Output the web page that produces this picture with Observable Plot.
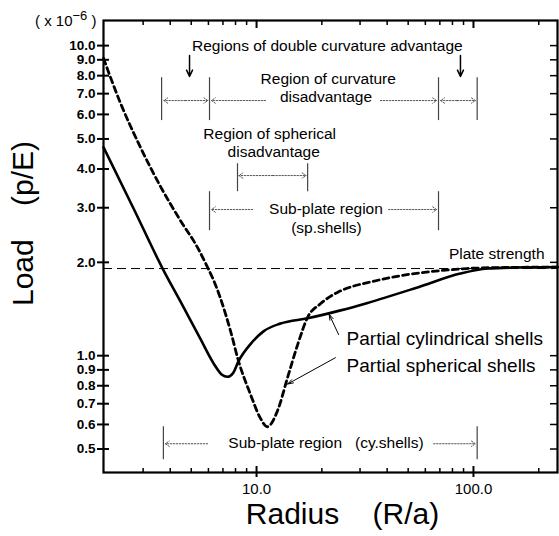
<!DOCTYPE html>
<html><head><meta charset="utf-8">
<script src="https://cdn.jsdelivr.net/npm/d3@7"></script>
<script src="https://cdn.jsdelivr.net/npm/@observablehq/plot@0.6"></script>
<style>
body{margin:0;background:#fff;}
#chart svg{display:block;}
</style></head><body><div id="chart"></div>
<script>
// Partial cylindrical shells (solid)
const cylRadius = [1.97, 2.7, 3.69, 4.47, 5.52, 6.34, 6.9, 7.35, 7.8, 8.26, 9.38, 10.8, 12.9, 17.2, 24.4, 32.5, 55.2, 87, 116, 160, 244];
const cylLoad   = [4.7, 3.0, 1.91, 1.49, 1.13, 0.944, 0.87, 0.855, 0.88, 0.96, 1.09, 1.20, 1.27, 1.32, 1.40, 1.48, 1.66, 1.84, 1.91, 1.925, 1.93];
// Partial spherical shells (dashed)
const sphRadius = [1.97, 2.36, 2.92, 3.61, 4.47, 5.35, 5.94, 6.34, 6.82, 7.59, 8.26, 9.38, 10.4, 11.2, 12.5, 13.9, 15.5, 17.2, 19.7, 23.6, 27.5, 32.5, 46, 65, 93, 140, 244];
const sphLoad   = [9.1, 6.52, 4.69, 3.51, 2.72, 2.23, 1.93, 1.75, 1.53, 1.20, 0.96, 0.75, 0.63, 0.59, 0.665, 0.85, 1.09, 1.33, 1.47, 1.60, 1.67, 1.72, 1.81, 1.87, 1.91, 1.925, 1.93];
const plateStrength = 1.91;

// axis ticks
const yTicks = [0.5, 0.6, 0.7, 0.8, 0.9, 1, 2, 3, 4, 5, 6, 7, 8, 9, 10];
const xMajorTicks = [10, 100];
const xMinorTicks = [3, 4, 5, 6, 7, 8, 9, 20, 30, 40, 50, 60, 70, 80, 90, 200];

// region boundary lines
const boundX  = [3.65, 6.07, 69, 104, 8.17, 17.2, 6.07, 69, 3.72, 104];
const boundY1 = [5.73, 5.73, 5.73, 5.73, 3.38, 3.38, 2.53, 2.53, 0.462, 0.462];
const boundY2 = [7.88, 7.88, 7.88, 7.88, 4.16, 4.16, 3.38, 3.38, 0.59, 0.59];

// dotted region arrows
const spanX1 = [4.7, 4.7, 11.0, 37.2, 84, 84, 11.9, 11.9, 9.6, 40.6, 5.95, 65.5];
const spanX2 = [3.74, 5.96, 6.2, 67.6, 70.6, 102, 8.3, 16.9, 6.2, 67.6, 3.8, 102];
const spanY  = [6.65, 6.65, 6.65, 6.65, 6.65, 6.65, 3.81, 3.81, 2.96, 2.96, 0.52, 0.52];

// annotation texts
const noteText = ["Regions of double curvature advantage", "Region of curvature", "disadvantage",
  "Region of spherical", "disadvantage", "Sub-plate region", "(sp.shells)",
  "Sub-plate region\u00a0\u00a0\u00a0(cy.shells)", "Plate strength"];
const noteX = [21.2, 21.4, 20.9, 11.5, 12.0, 20.9, 21.0, 20.9, 128];
const noteY = [9.96, 7.79, 6.82, 5.18, 4.55, 2.97, 2.58, 0.522, 2.13];

const seriesText = ["Partial cylindrical shells", "Partial spherical shells"];
const seriesX = [26.0, 26.0];
const seriesY = [1.13, 0.929];

// pointer arrows (series labels) and down arrows
const pointX1 = [23.9, 23.1], pointY1 = [1.17, 0.985], pointX2 = [21.6, 13.9], pointY2 = [1.36, 0.81];
const downX = [4.91, 87.1], downY1 = [9.3, 9.3], downY2 = [7.95, 7.95];

const cyl = cylRadius.map((r, i) => ({r, p: cylLoad[i]}));
const sph = sphRadius.map((r, i) => ({r, p: sphLoad[i]}));
const bounds = boundX.map((x, i) => ({x, y1: boundY1[i], y2: boundY2[i]}));
const spans = spanX1.map((x1, i) => ({x1, x2: spanX2[i], y: spanY[i]}));
const notes = noteText.map((t, i) => ({t, x: noteX[i], y: noteY[i]}));
const series = seriesText.map((t, i) => ({t, x: seriesX[i], y: seriesY[i]}));
const pointers = pointX1.map((x1, i) => ({x1, y1: pointY1[i], x2: pointX2[i], y2: pointY2[i]}));
const downs = downX.map((x, i) => ({x, y1: downY1[i], y2: downY2[i]}));

const width = 559, height = 536;
const mL = 103, mR = 2, mT = 20, mB = 64;
const pw = width - mL - mR, ph = height - mT - mB;
const font = "'Liberation Sans', Arial, Helvetica, sans-serif";

const chart = Plot.plot({
  width, height,
  marginLeft: mL, marginRight: mR, marginTop: mT, marginBottom: mB,
  style: {fontFamily: font, background: "#fff", color: "#000", overflow: "visible"},
  x: {type: "log", domain: [1.97, 244], axis: null},
  y: {type: "log", domain: [0.42, 12.05], axis: null},
  marks: [
    Plot.ruleY([plateStrength], {stroke: "#000", strokeWidth: 1, strokeDasharray: "9,5"}),
    Plot.line(cyl, {x: "r", y: "p", stroke: "#000", strokeWidth: 2.6, curve: "monotone-x"}),
    Plot.line(sph, {x: "r", y: "p", stroke: "#000", strokeWidth: 2.8, strokeDasharray: "6,4", curve: "monotone-x"}),
    // region boundaries
    Plot.ruleX(bounds, {x: "x", y1: "y1", y2: "y2", stroke: "#444", strokeWidth: 1.2}),
    // dotted region arrows
    Plot.arrow(spans, {x1: "x1", x2: "x2", y1: "y", y2: "y", stroke: "#555", strokeWidth: 1, strokeDasharray: "1.5,1.5", headLength: 7, headAngle: 70}),
    // down arrows
    Plot.arrow(downs, {x1: "x", x2: "x", y1: "y1", y2: "y2", stroke: "#000", strokeWidth: 1.5, headLength: 8, headAngle: 50}),
    // pointer arrows
    Plot.arrow(pointers, {x1: "x1", y1: "y1", x2: "x2", y2: "y2", stroke: "#000", strokeWidth: 1, headLength: 9, headAngle: 35}),
    // annotation text
    Plot.text(notes, {x: "x", y: "y", text: "t", fontSize: 15.5, fill: "#000", textAnchor: "middle", lineAnchor: "middle"}),
    Plot.text(series, {x: "x", y: "y", text: "t", fontSize: 19, fill: "#000", textAnchor: "start", lineAnchor: "middle"}),
    // frame
    Plot.frame({stroke: "#000", strokeWidth: 2.2}),
    // y ticks left (crossing), right (inward)
    Plot.tickY(yTicks, {y: d => d, insetLeft: -6, insetRight: pw - 6, stroke: "#000", strokeWidth: 2}),
    Plot.tickY(yTicks, {y: d => d, insetLeft: pw - 7, stroke: "#000", strokeWidth: 1.5}),
    // x ticks bottom and top
    Plot.tickX(xMinorTicks, {x: d => d, insetTop: ph - 4, stroke: "#000", strokeWidth: 1.5}),
    Plot.tickX(xMajorTicks, {x: d => d, insetTop: ph - 6, insetBottom: -5, stroke: "#000", strokeWidth: 2}),
    Plot.tickX(xMinorTicks, {x: d => d, insetBottom: ph - 5, stroke: "#000", strokeWidth: 1.5}),
    Plot.tickX(xMajorTicks, {x: d => d, insetBottom: ph - 8, stroke: "#000", strokeWidth: 2}),
    // tick labels
    Plot.text(yTicks, {y: d => d, text: d => d.toFixed(1), frameAnchor: "left", textAnchor: "end", lineAnchor: "middle", dx: -8, fontSize: 13.5, fontWeight: "bold", fill: "#000"}),
    Plot.text(xMajorTicks, {x: d => d, text: d => d.toFixed(1), frameAnchor: "bottom", textAnchor: "middle", lineAnchor: "top", dy: 11, fontSize: 15, fill: "#000"}),
    // axis titles and unit
    Plot.text(["Radius\u00a0\u00a0\u00a0\u00a0(R/a)"], {frameAnchor: "bottom", textAnchor: "middle", lineAnchor: "middle", dx: 12, dy: 42, fontSize: 30, fill: "#000"}),
    Plot.text(["Load\u00a0\u00a0\u00a0\u00a0(p/E)"], {frameAnchor: "left", textAnchor: "middle", lineAnchor: "middle", rotate: -90, dx: -80, dy: -23, fontSize: 30, fill: "#000"}),
    Plot.text(["( x 10"], {frameAnchor: "top-left", textAnchor: "end", lineAnchor: "bottom", dx: -31, dy: 5, fontSize: 15, fill: "#000"}),
    Plot.text(["\u22126"], {frameAnchor: "top-left", textAnchor: "start", lineAnchor: "bottom", dx: -31, dy: -1, fontSize: 13, fill: "#000"}),
    Plot.text([")"], {frameAnchor: "top-left", textAnchor: "start", lineAnchor: "bottom", dx: -12, dy: 5, fontSize: 15, fill: "#000"})
  ]
});
document.getElementById("chart").appendChild(chart);
</script>
</body></html>
